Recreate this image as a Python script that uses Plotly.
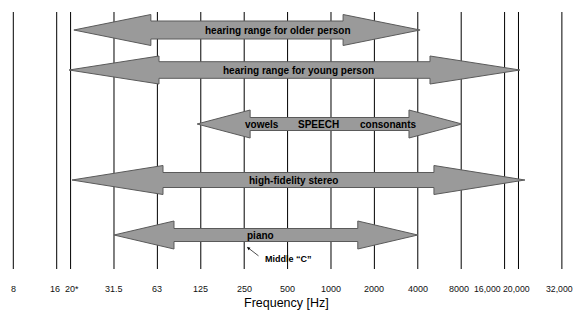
import numpy as np
import plotly.graph_objects as go

# ---- data ----
tick_labels = ["8", "16", "20*", "31.5", "63", "125", "250", "500", "1000",
               "2000", "4000", "8000", "16,000", "20,000", "32,000"]
tick_freqs = [8, 16, 20, 31.5, 63, 125, 250, 500, 1000,
              2000, 4000, 8000, 16000, 20000, 32000]
# the diagram's own (non-uniform) octave positions of the tick frequencies
tick_pos = [0, 1, 1.32, 2.32, 3.32, 4.32, 5.32, 6.32, 7.32,
            8.32, 9.32, 10.32, 11.32, 11.64, 12.64]

range_names = ["hearing range for older person", "hearing range for young person",
               "SPEECH", "high-fidelity stereo", "piano"]
range_low = [20.7, 19.5, 118, 20.3, 31.5]      # Hz
range_high = [4150, 20330, 8100, 21450, 4000]  # Hz

# ---- styling / layout ----
W, H = 584, 312
PX0, PXU = 13.3, 43.4          # pixel of position 0, pixels per octave unit
row_y = [30, 70, 124, 180, 235]
head_len = [77, 90, 53, 91, 60]        # px
head_half = [15.5, 14, 14, 14.5, 14]   # px
shaft_half = [9, 8.3, 6.5, 7.5, 6.5]   # px
label_px = [278, 298, 318, 293, 260]
tick_label_shift = [0, -1.5, 1.5, 0, 0, 0, 0, 0, 0, 0, 0, -2, -17, -2, -2]  # px
tick_label_size = [9, 9, 9, 9, 9, 9, 9, 9, 9, 9, 9, 9, 8.7, 8.7, 8.7]

FILL = "#9a9a9a"
EDGE = "#5a5a5a"
FONT = "Liberation Sans, Arial, sans-serif"


def to_pos(f):
    return float(np.interp(np.log2(f), np.log2(tick_freqs), tick_pos))


fig = go.Figure()

# vertical grid lines at the ticks
for p in tick_pos:
    fig.add_shape(type="line", x0=p, x1=p, y0=12, y1=269, xref="x", yref="y",
                  line=dict(color="black", width=1), layer="below")

# double-headed arrows
for i, name in enumerate(range_names):
    x0, x1 = to_pos(range_low[i]), to_pos(range_high[i])
    hl = head_len[i] / PXU
    c, hh, sh = row_y[i], head_half[i], shaft_half[i]
    xs = [x0, x0 + hl, x0 + hl, x1 - hl, x1 - hl, x1, x1 - hl, x1 - hl, x0 + hl, x0 + hl, x0]
    ys = [c, c - hh, c - sh, c - sh, c - hh, c, c + hh, c + sh, c + sh, c + hh, c]
    fig.add_trace(go.Scatter(x=xs, y=ys, mode="lines", fill="toself",
                             fillcolor=FILL, line=dict(color=EDGE, width=1),
                             hoverinfo="skip", showlegend=False))
    fig.add_annotation(x=label_px[i] / W, xref="paper", y=c, yref="y", text=f"<b>{name}</b>",
                       showarrow=False, font=dict(family=FONT, size=10, color="black"))

# speech sub-labels
for txt, px in [("vowels", 262), ("consonants", 388)]:
    fig.add_annotation(x=px / W, xref="paper", y=row_y[2], yref="y", text=f"<b>{txt}</b>",
                       showarrow=False, font=dict(family=FONT, size=10, color="black"))

# Middle C callout
fig.add_annotation(x=247 / W, xref="paper", y=247, yref="y", text="",
                   showarrow=True, ax=13, ay=10,
                   arrowhead=2, arrowsize=0.9, arrowwidth=0.7, arrowcolor="black")
fig.add_annotation(x=263 / W, xref="paper", y=259, yref="y", text="<b>Middle “C”</b>",
                   xanchor="left", showarrow=False,
                   font=dict(family=FONT, size=9, color="black"))

# tick labels and axis title
for lab, p, s, fs in zip(tick_labels, tick_pos, tick_label_shift, tick_label_size):
    fig.add_annotation(x=p, xref="x", y=289, yref="y", text=lab, showarrow=False,
                       xshift=s, font=dict(family=FONT, size=fs, color="#111"))
fig.add_annotation(x=286.5 / W, xref="paper", y=303, yref="y", text="Frequency [Hz]",
                   showarrow=False, font=dict(family=FONT, size=12.5, color="black"))

fig.update_layout(
    width=W, height=H, margin=dict(l=0, r=0, t=0, b=0),
    paper_bgcolor="white", plot_bgcolor="white",
    xaxis=dict(range=[-PX0 / PXU, (W - PX0) / PXU], visible=False, fixedrange=True),
    yaxis=dict(range=[H, 0], visible=False, fixedrange=True),
)
fig.write_html("out.html", config={"displayModeBar": False},
               post_script="document.body.style.margin='0';")
